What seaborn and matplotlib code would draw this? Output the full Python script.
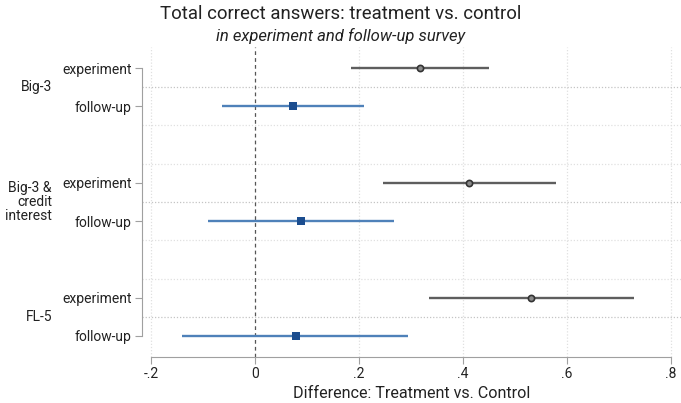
import matplotlib
matplotlib.use("Agg")
import matplotlib.pyplot as plt
import matplotlib.transforms as mtransforms
import numpy as np
import pandas as pd
import seaborn as sns

# estimates
groups = ["Big-3", "Big-3 &\ncredit\ninterest", "FL-5"]
surveys = ["experiment", "follow-up"]
estimate = [0.317, 0.073, 0.412, 0.088, 0.531, 0.079]
ci_low = [0.185, -0.063, 0.246, -0.090, 0.335, -0.140]
ci_high = [0.450, 0.210, 0.579, 0.267, 0.729, 0.294]
row_pos = [1, 2, 4, 5, 7, 8]

df = pd.DataFrame({
    "survey": surveys * 3,
    "pos": row_pos,
    "est": estimate,
    "lo": ci_low,
    "hi": ci_high,
})

sns.set_style("white")
plt.rcParams["font.family"] = ["Roboto", "DejaVu Sans"]

fig = plt.figure(figsize=(6.81, 4.03), dpi=100)
ax = fig.add_axes([142 / 681, 1 - 357 / 403, (681 - 142) / 681, (357 - 47) / 403])

line_col = {"experiment": "#5e5e5e", "follow-up": "#4f81b9"}
for s in surveys:
    d = df[df.survey == s]
    ax.hlines(d.pos, d.lo, d.hi, color=line_col[s], lw=1.7, zorder=3)

sns.scatterplot(data=df[df.survey == "follow-up"], x="est", y="pos",
                marker="s", color="#1b4d8f", s=30, linewidth=0,
                legend=False, ax=ax, zorder=4)
sns.scatterplot(data=df[df.survey == "experiment"], x="est", y="pos",
                marker="o", color="#8a8a8a", edgecolor="#333333", s=20, linewidth=1.2,
                legend=False, ax=ax, zorder=5)

ax.axvline(0, color="#555555", lw=0.9, ls=(0, (3, 2.5)), zorder=2)

ax.set_xlim(-0.2 - 9 / 520, 0.8 + 10 / 520)
ax.set_ylim(8.55, 0.45)

ax.set_xticks([-0.2, 0, 0.2, 0.4, 0.6, 0.8])
ax.set_xticklabels(["-.2", "0", ".2", ".4", ".6", ".8"])
ax.set_yticks(row_pos)
ax.set_yticklabels(surveys * 3)

# grid
for xv in [-0.2, 0.2, 0.4, 0.6, 0.8]:
    ax.axvline(xv, color="#e0e0e0", lw=0.9, ls=(0, (1, 1.5)), zorder=1)
for yv in [1.5, 4.5, 7.5]:
    ax.axhline(yv, color="#c4c4c4", lw=0.9, ls=(0, (1, 1.5)), zorder=1)
for yv in [2.5, 3.5, 5.5, 6.5]:
    ax.axhline(yv, color="#e0e0e0", lw=0.9, ls=(0, (1, 1.5)), zorder=1)

for side in ["top", "right"]:
    ax.spines[side].set_visible(False)
ax.spines["left"].set_bounds(1, 8)
ax.spines["left"].set_color("#a0a0a0")
ax.spines["bottom"].set_bounds(-0.2, 0.8)
ax.spines["bottom"].set_color("#a0a0a0")
ax.tick_params(axis="both", which="major", length=5, color="#a0a0a0",
               labelsize=10, labelcolor="#222222", pad=2.5, left=True, bottom=True)

ax.set_xlabel("Difference: Treatment vs. Control", fontsize=11.6, color="#222222", labelpad=3)
ax.set_ylabel("")

trans = mtransforms.blended_transform_factory(fig.transFigure, ax.transData)
for g, yv in zip(groups, [1.5, 4.5, 7.5]):
    ax.text(52 / 681, yv, g, transform=trans, ha="right", va="center",
            multialignment="right", fontsize=10, color="#222222", linespacing=1.0)

fig.text(0.5, 1 - 14 / 403, "Total correct answers: treatment vs. control",
         ha="center", va="center", fontsize=13.4, color="#222222")
fig.text(0.5, 1 - 36 / 403, "in experiment and follow-up survey",
         ha="center", va="center", fontsize=12, style="italic", color="#222222")

fig.savefig("out.png", dpi=100)
